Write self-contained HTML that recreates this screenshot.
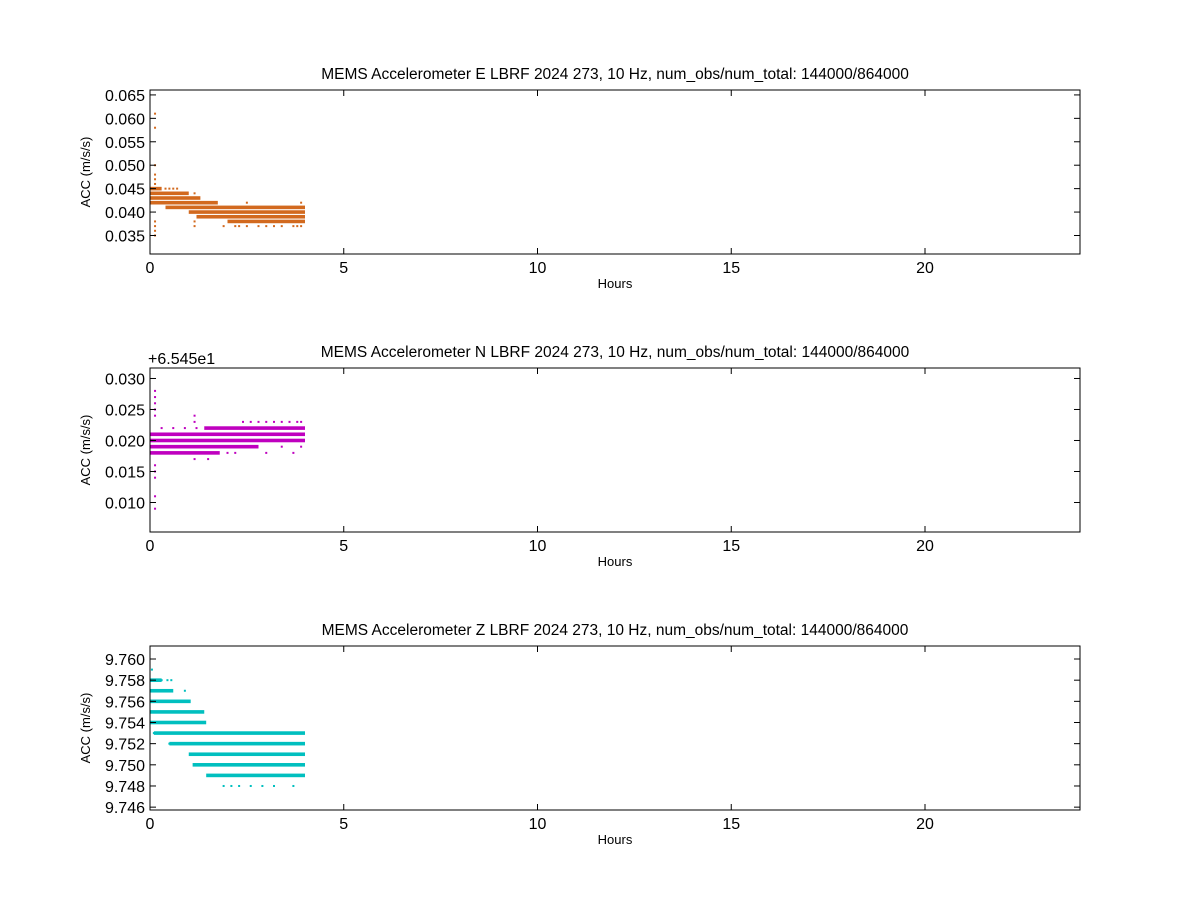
<!DOCTYPE html>
<html><head><meta charset="utf-8"><style>
body{margin:0;background:#fff}
svg{font-family:"Liberation Sans","DejaVu Sans",sans-serif}
</style></head><body>
<svg id="c" width="1200" height="900" xmlns="http://www.w3.org/2000/svg"></svg>
<script>
// ---- data ----
const xTicks=[0,5,10,15,20];
const titles=["MEMS Accelerometer E LBRF 2024 273, 10 Hz, num_obs/num_total: 144000/864000",
"MEMS Accelerometer N LBRF 2024 273, 10 Hz, num_obs/num_total: 144000/864000",
"MEMS Accelerometer Z LBRF 2024 273, 10 Hz, num_obs/num_total: 144000/864000"];
const colors=["#d2691e","#bf00bf","#00bfbf"];
const yTicksE=[0.035,0.040,0.045,0.050,0.055,0.060,0.065];
const yTicksN=[0.010,0.015,0.020,0.025,0.030];
const yTicksZ=[9.746,9.748,9.750,9.752,9.754,9.756,9.758,9.760];
const yDecimals=[3,3,3];
// level bars: value, start hour, end hour
const levelsE=[0.045,0.044,0.043,0.042,0.041,0.040,0.039,0.038];
const startE=[0,0,0,0,0.4,1.0,1.2,2.0];
const endE=[0.3,1.0,1.3,1.75,4.0,4.0,4.0,4.0];
const levelsN=[0.022,0.021,0.020,0.019,0.018];
const startN=[1.4,0,0,0,0];
const endN=[4.0,4.0,4.0,2.8,1.8];
const levelsZ=[9.758,9.757,9.756,9.755,9.754,9.753,9.752,9.751,9.750,9.749];
const startZ=[0,0,0,0,0,0.1,0.5,1.0,1.1,1.45];
const endZ=[0.3,0.6,1.05,1.4,1.45,4.0,4.0,4.0,4.0,4.0];
// scattered points: hour, value
const dotsEx=[0.13,0.13,0.13,0.13,0.13,0.13,0.13,0.13,0.13,0.13,0.4,0.5,0.6,0.7,1.15,1.15,1.15,1.9,2.2,2.3,2.5,2.8,3.0,3.2,3.4,3.7,3.8,3.9,2.5,3.9];
const dotsEy=[0.061,0.058,0.050,0.048,0.047,0.046,0.038,0.037,0.036,0.035,0.045,0.045,0.045,0.045,0.044,0.038,0.037,0.037,0.037,0.037,0.037,0.037,0.037,0.037,0.037,0.037,0.037,0.042,0.042,0.037];
const dotsNx=[0.13,0.13,0.13,0.13,0.13,0.13,0.13,0.13,0.13,0.13,1.15,1.15,1.15,1.5,2.4,2.6,2.8,3.0,3.2,3.4,3.6,3.8,3.9,2.0,2.2,3.0,3.7,0.3,0.6,0.9,1.2,3.4,3.9];
const dotsNy=[0.028,0.027,0.026,0.025,0.024,0.016,0.015,0.014,0.011,0.009,0.024,0.023,0.017,0.017,0.023,0.023,0.023,0.023,0.023,0.023,0.023,0.023,0.023,0.018,0.018,0.018,0.018,0.022,0.022,0.022,0.022,0.019,0.019];
const dotsZx=[0.05,0.3,0.45,0.55,0.9,1.6,1.8,2.0,2.3,2.8,3.5,1.9,2.1,2.3,2.6,2.9,3.2,3.7,0.5,0.1];
const dotsZy=[9.759,9.758,9.758,9.758,9.757,9.753,9.753,9.753,9.753,9.753,9.753,9.748,9.748,9.748,9.748,9.748,9.748,9.748,9.752,9.753];
// ---- layout ----
const panels=[
 {top:90,bot:254,ymin:0.03105,ymax:0.06605,ticks:yTicksE,lv:levelsE,st:startE,en:endE,dx:dotsEx,dy:dotsEy},
 {top:368,bot:532,ymin:0.00524,ymax:0.03169,ticks:yTicksN,lv:levelsN,st:startN,en:endN,dx:dotsNx,dy:dotsNy},
 {top:646,bot:810,ymin:9.74573,ymax:9.76123,ticks:yTicksZ,lv:levelsZ,st:startZ,en:endZ,dx:dotsZx,dy:dotsZy}];
const L=150,R=1080,XMAX=24;
const svg=document.getElementById('c');
const NS="http://www.w3.org/2000/svg";
function mk(t,a,p){const e=document.createElementNS(NS,t);for(const k in a)e.setAttribute(k,a[k]);(p||svg).appendChild(e);return e;}
const sx=h=>L+(R-L)*h/XMAX;
panels.forEach((p,i)=>{
 const sy=v=>p.bot-(p.bot-p.top)*(v-p.ymin)/(p.ymax-p.ymin);
 const g=mk('g',{});
 
 
 const dg=mk('g',{fill:colors[i]},g);
 
 
 p.lv.forEach((v,j)=>{
  const r=mk('rect',{x:sx(p.st[j]),y:sy(v)-1.8,width:Math.max(1,sx(p.en[j])-sx(p.st[j])),height:3.6},dg);
  
  
 });
 p.dx.forEach((h,j)=>{
  const r=mk('rect',{x:sx(h)-1,y:sy(p.dy[j])-1,width:2,height:2},dg);
  
  
 });
 const fr=mk('rect',{x:L,y:p.top,width:R-L,height:p.bot-p.top,fill:'none',stroke:'#000','stroke-width':1},g);
 
 
 xTicks.forEach(t=>{
  const x=sx(t);
  mk('line',{x1:x,x2:x,y1:p.bot,y2:p.bot-6,stroke:'#000'},g);
  mk('line',{x1:x,x2:x,y1:p.top,y2:p.top+6,stroke:'#000'},g);
  const tx=mk('text',{x:x,y:p.bot+19,'font-size':16,'text-anchor':'middle'},g);
  tx.textContent=t;
  
  
 });
 p.ticks.forEach(t=>{
  const y=sy(t);
  mk('line',{x1:L,x2:L+6,y1:y,y2:y,stroke:'#000'},g);
  mk('line',{x1:R,x2:R-6,y1:y,y2:y,stroke:'#000'},g);
  const tx=mk('text',{x:L-5,y:y+6,'font-size':16,'text-anchor':'end'},g);
  tx.textContent=t.toFixed(yDecimals[i]);
  
  
 });
 const ti=mk('text',{x:(L+R)/2,y:p.top-11,'font-size':15.5,'text-anchor':'middle'},g);
 ti.textContent=titles[i];
 
 
 const xl=mk('text',{x:(L+R)/2,y:p.bot+34,'font-size':13,'text-anchor':'middle'},g);
 xl.textContent='Hours';
 
 
 const yc=(p.top+p.bot)/2;
 const yl=mk('text',{x:90,y:yc,'font-size':13,'text-anchor':'middle',transform:`rotate(-90 90 ${yc})`},g);
 yl.textContent='ACC (m/s/s)';
 
 
 if(i===1){
  const off=mk('text',{x:148,y:p.top-4,'font-size':16},g);
  off.textContent='+6.545e1';
  
  
 }
});
</script>
</body></html>
